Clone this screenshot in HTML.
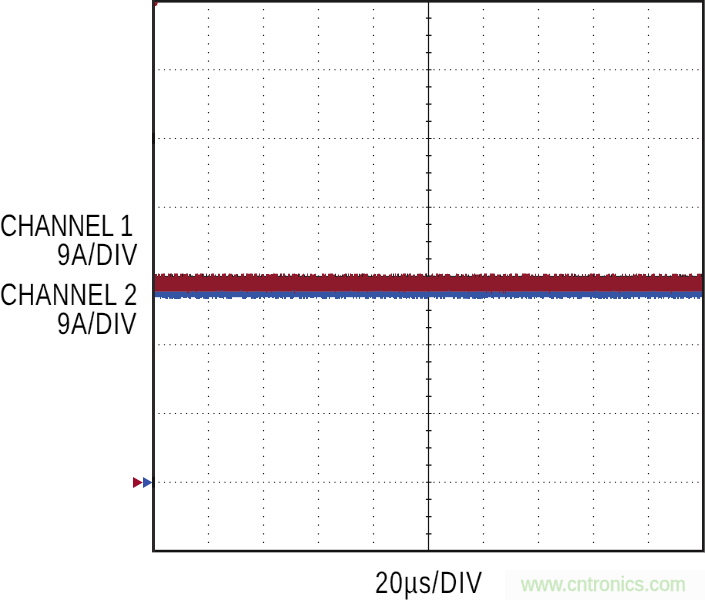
<!DOCTYPE html>
<html><head><meta charset="utf-8"><style>
html,body{margin:0;padding:0;background:#fff;width:705px;height:600px;overflow:hidden}
svg{position:absolute;left:0;top:0}
.t{position:absolute;font-family:"Liberation Sans",sans-serif;white-space:nowrap;line-height:1;color:#000;-webkit-text-stroke:0.12px #fff;will-change:transform;text-rendering:geometricPrecision}
.w{position:absolute;font-family:"Liberation Sans",sans-serif;white-space:nowrap;line-height:1;will-change:transform;-webkit-text-stroke:0.3px #c6e6bb}
</style></head><body>
<svg width="705" height="600" viewBox="0 0 705 600">
<path d="M207.90 8.99h1.2v1.2h-1.2zM207.90 17.59h1.2v1.2h-1.2zM207.90 26.18h1.2v1.2h-1.2zM207.90 34.77h1.2v1.2h-1.2zM207.90 43.37h1.2v1.2h-1.2zM207.90 51.96h1.2v1.2h-1.2zM207.90 60.56h1.2v1.2h-1.2zM207.90 69.15h1.2v1.2h-1.2zM207.90 77.74h1.2v1.2h-1.2zM207.90 86.34h1.2v1.2h-1.2zM207.90 94.93h1.2v1.2h-1.2zM207.90 103.53h1.2v1.2h-1.2zM207.90 112.12h1.2v1.2h-1.2zM207.90 120.71h1.2v1.2h-1.2zM207.90 129.31h1.2v1.2h-1.2zM207.90 137.90h1.2v1.2h-1.2zM207.90 146.49h1.2v1.2h-1.2zM207.90 155.09h1.2v1.2h-1.2zM207.90 163.68h1.2v1.2h-1.2zM207.90 172.28h1.2v1.2h-1.2zM207.90 180.87h1.2v1.2h-1.2zM207.90 189.46h1.2v1.2h-1.2zM207.90 198.06h1.2v1.2h-1.2zM207.90 206.65h1.2v1.2h-1.2zM207.90 215.24h1.2v1.2h-1.2zM207.90 223.84h1.2v1.2h-1.2zM207.90 232.43h1.2v1.2h-1.2zM207.90 241.03h1.2v1.2h-1.2zM207.90 249.62h1.2v1.2h-1.2zM207.90 258.21h1.2v1.2h-1.2zM207.90 266.81h1.2v1.2h-1.2zM207.90 275.40h1.2v1.2h-1.2zM207.90 283.99h1.2v1.2h-1.2zM207.90 292.59h1.2v1.2h-1.2zM207.90 301.18h1.2v1.2h-1.2zM207.90 309.77h1.2v1.2h-1.2zM207.90 318.37h1.2v1.2h-1.2zM207.90 326.96h1.2v1.2h-1.2zM207.90 335.56h1.2v1.2h-1.2zM207.90 344.15h1.2v1.2h-1.2zM207.90 352.74h1.2v1.2h-1.2zM207.90 361.34h1.2v1.2h-1.2zM207.90 369.93h1.2v1.2h-1.2zM207.90 378.52h1.2v1.2h-1.2zM207.90 387.12h1.2v1.2h-1.2zM207.90 395.71h1.2v1.2h-1.2zM207.90 404.31h1.2v1.2h-1.2zM207.90 412.90h1.2v1.2h-1.2zM207.90 421.49h1.2v1.2h-1.2zM207.90 430.09h1.2v1.2h-1.2zM207.90 438.68h1.2v1.2h-1.2zM207.90 447.27h1.2v1.2h-1.2zM207.90 455.87h1.2v1.2h-1.2zM207.90 464.46h1.2v1.2h-1.2zM207.90 473.06h1.2v1.2h-1.2zM207.90 481.65h1.2v1.2h-1.2zM207.90 490.24h1.2v1.2h-1.2zM207.90 498.84h1.2v1.2h-1.2zM207.90 507.43h1.2v1.2h-1.2zM207.90 516.02h1.2v1.2h-1.2zM207.90 524.62h1.2v1.2h-1.2zM207.90 533.21h1.2v1.2h-1.2zM207.90 541.81h1.2v1.2h-1.2zM262.90 8.99h1.2v1.2h-1.2zM262.90 17.59h1.2v1.2h-1.2zM262.90 26.18h1.2v1.2h-1.2zM262.90 34.77h1.2v1.2h-1.2zM262.90 43.37h1.2v1.2h-1.2zM262.90 51.96h1.2v1.2h-1.2zM262.90 60.56h1.2v1.2h-1.2zM262.90 69.15h1.2v1.2h-1.2zM262.90 77.74h1.2v1.2h-1.2zM262.90 86.34h1.2v1.2h-1.2zM262.90 94.93h1.2v1.2h-1.2zM262.90 103.53h1.2v1.2h-1.2zM262.90 112.12h1.2v1.2h-1.2zM262.90 120.71h1.2v1.2h-1.2zM262.90 129.31h1.2v1.2h-1.2zM262.90 137.90h1.2v1.2h-1.2zM262.90 146.49h1.2v1.2h-1.2zM262.90 155.09h1.2v1.2h-1.2zM262.90 163.68h1.2v1.2h-1.2zM262.90 172.28h1.2v1.2h-1.2zM262.90 180.87h1.2v1.2h-1.2zM262.90 189.46h1.2v1.2h-1.2zM262.90 198.06h1.2v1.2h-1.2zM262.90 206.65h1.2v1.2h-1.2zM262.90 215.24h1.2v1.2h-1.2zM262.90 223.84h1.2v1.2h-1.2zM262.90 232.43h1.2v1.2h-1.2zM262.90 241.03h1.2v1.2h-1.2zM262.90 249.62h1.2v1.2h-1.2zM262.90 258.21h1.2v1.2h-1.2zM262.90 266.81h1.2v1.2h-1.2zM262.90 275.40h1.2v1.2h-1.2zM262.90 283.99h1.2v1.2h-1.2zM262.90 292.59h1.2v1.2h-1.2zM262.90 301.18h1.2v1.2h-1.2zM262.90 309.77h1.2v1.2h-1.2zM262.90 318.37h1.2v1.2h-1.2zM262.90 326.96h1.2v1.2h-1.2zM262.90 335.56h1.2v1.2h-1.2zM262.90 344.15h1.2v1.2h-1.2zM262.90 352.74h1.2v1.2h-1.2zM262.90 361.34h1.2v1.2h-1.2zM262.90 369.93h1.2v1.2h-1.2zM262.90 378.52h1.2v1.2h-1.2zM262.90 387.12h1.2v1.2h-1.2zM262.90 395.71h1.2v1.2h-1.2zM262.90 404.31h1.2v1.2h-1.2zM262.90 412.90h1.2v1.2h-1.2zM262.90 421.49h1.2v1.2h-1.2zM262.90 430.09h1.2v1.2h-1.2zM262.90 438.68h1.2v1.2h-1.2zM262.90 447.27h1.2v1.2h-1.2zM262.90 455.87h1.2v1.2h-1.2zM262.90 464.46h1.2v1.2h-1.2zM262.90 473.06h1.2v1.2h-1.2zM262.90 481.65h1.2v1.2h-1.2zM262.90 490.24h1.2v1.2h-1.2zM262.90 498.84h1.2v1.2h-1.2zM262.90 507.43h1.2v1.2h-1.2zM262.90 516.02h1.2v1.2h-1.2zM262.90 524.62h1.2v1.2h-1.2zM262.90 533.21h1.2v1.2h-1.2zM262.90 541.81h1.2v1.2h-1.2zM317.90 8.99h1.2v1.2h-1.2zM317.90 17.59h1.2v1.2h-1.2zM317.90 26.18h1.2v1.2h-1.2zM317.90 34.77h1.2v1.2h-1.2zM317.90 43.37h1.2v1.2h-1.2zM317.90 51.96h1.2v1.2h-1.2zM317.90 60.56h1.2v1.2h-1.2zM317.90 69.15h1.2v1.2h-1.2zM317.90 77.74h1.2v1.2h-1.2zM317.90 86.34h1.2v1.2h-1.2zM317.90 94.93h1.2v1.2h-1.2zM317.90 103.53h1.2v1.2h-1.2zM317.90 112.12h1.2v1.2h-1.2zM317.90 120.71h1.2v1.2h-1.2zM317.90 129.31h1.2v1.2h-1.2zM317.90 137.90h1.2v1.2h-1.2zM317.90 146.49h1.2v1.2h-1.2zM317.90 155.09h1.2v1.2h-1.2zM317.90 163.68h1.2v1.2h-1.2zM317.90 172.28h1.2v1.2h-1.2zM317.90 180.87h1.2v1.2h-1.2zM317.90 189.46h1.2v1.2h-1.2zM317.90 198.06h1.2v1.2h-1.2zM317.90 206.65h1.2v1.2h-1.2zM317.90 215.24h1.2v1.2h-1.2zM317.90 223.84h1.2v1.2h-1.2zM317.90 232.43h1.2v1.2h-1.2zM317.90 241.03h1.2v1.2h-1.2zM317.90 249.62h1.2v1.2h-1.2zM317.90 258.21h1.2v1.2h-1.2zM317.90 266.81h1.2v1.2h-1.2zM317.90 275.40h1.2v1.2h-1.2zM317.90 283.99h1.2v1.2h-1.2zM317.90 292.59h1.2v1.2h-1.2zM317.90 301.18h1.2v1.2h-1.2zM317.90 309.77h1.2v1.2h-1.2zM317.90 318.37h1.2v1.2h-1.2zM317.90 326.96h1.2v1.2h-1.2zM317.90 335.56h1.2v1.2h-1.2zM317.90 344.15h1.2v1.2h-1.2zM317.90 352.74h1.2v1.2h-1.2zM317.90 361.34h1.2v1.2h-1.2zM317.90 369.93h1.2v1.2h-1.2zM317.90 378.52h1.2v1.2h-1.2zM317.90 387.12h1.2v1.2h-1.2zM317.90 395.71h1.2v1.2h-1.2zM317.90 404.31h1.2v1.2h-1.2zM317.90 412.90h1.2v1.2h-1.2zM317.90 421.49h1.2v1.2h-1.2zM317.90 430.09h1.2v1.2h-1.2zM317.90 438.68h1.2v1.2h-1.2zM317.90 447.27h1.2v1.2h-1.2zM317.90 455.87h1.2v1.2h-1.2zM317.90 464.46h1.2v1.2h-1.2zM317.90 473.06h1.2v1.2h-1.2zM317.90 481.65h1.2v1.2h-1.2zM317.90 490.24h1.2v1.2h-1.2zM317.90 498.84h1.2v1.2h-1.2zM317.90 507.43h1.2v1.2h-1.2zM317.90 516.02h1.2v1.2h-1.2zM317.90 524.62h1.2v1.2h-1.2zM317.90 533.21h1.2v1.2h-1.2zM317.90 541.81h1.2v1.2h-1.2zM372.90 8.99h1.2v1.2h-1.2zM372.90 17.59h1.2v1.2h-1.2zM372.90 26.18h1.2v1.2h-1.2zM372.90 34.77h1.2v1.2h-1.2zM372.90 43.37h1.2v1.2h-1.2zM372.90 51.96h1.2v1.2h-1.2zM372.90 60.56h1.2v1.2h-1.2zM372.90 69.15h1.2v1.2h-1.2zM372.90 77.74h1.2v1.2h-1.2zM372.90 86.34h1.2v1.2h-1.2zM372.90 94.93h1.2v1.2h-1.2zM372.90 103.53h1.2v1.2h-1.2zM372.90 112.12h1.2v1.2h-1.2zM372.90 120.71h1.2v1.2h-1.2zM372.90 129.31h1.2v1.2h-1.2zM372.90 137.90h1.2v1.2h-1.2zM372.90 146.49h1.2v1.2h-1.2zM372.90 155.09h1.2v1.2h-1.2zM372.90 163.68h1.2v1.2h-1.2zM372.90 172.28h1.2v1.2h-1.2zM372.90 180.87h1.2v1.2h-1.2zM372.90 189.46h1.2v1.2h-1.2zM372.90 198.06h1.2v1.2h-1.2zM372.90 206.65h1.2v1.2h-1.2zM372.90 215.24h1.2v1.2h-1.2zM372.90 223.84h1.2v1.2h-1.2zM372.90 232.43h1.2v1.2h-1.2zM372.90 241.03h1.2v1.2h-1.2zM372.90 249.62h1.2v1.2h-1.2zM372.90 258.21h1.2v1.2h-1.2zM372.90 266.81h1.2v1.2h-1.2zM372.90 275.40h1.2v1.2h-1.2zM372.90 283.99h1.2v1.2h-1.2zM372.90 292.59h1.2v1.2h-1.2zM372.90 301.18h1.2v1.2h-1.2zM372.90 309.77h1.2v1.2h-1.2zM372.90 318.37h1.2v1.2h-1.2zM372.90 326.96h1.2v1.2h-1.2zM372.90 335.56h1.2v1.2h-1.2zM372.90 344.15h1.2v1.2h-1.2zM372.90 352.74h1.2v1.2h-1.2zM372.90 361.34h1.2v1.2h-1.2zM372.90 369.93h1.2v1.2h-1.2zM372.90 378.52h1.2v1.2h-1.2zM372.90 387.12h1.2v1.2h-1.2zM372.90 395.71h1.2v1.2h-1.2zM372.90 404.31h1.2v1.2h-1.2zM372.90 412.90h1.2v1.2h-1.2zM372.90 421.49h1.2v1.2h-1.2zM372.90 430.09h1.2v1.2h-1.2zM372.90 438.68h1.2v1.2h-1.2zM372.90 447.27h1.2v1.2h-1.2zM372.90 455.87h1.2v1.2h-1.2zM372.90 464.46h1.2v1.2h-1.2zM372.90 473.06h1.2v1.2h-1.2zM372.90 481.65h1.2v1.2h-1.2zM372.90 490.24h1.2v1.2h-1.2zM372.90 498.84h1.2v1.2h-1.2zM372.90 507.43h1.2v1.2h-1.2zM372.90 516.02h1.2v1.2h-1.2zM372.90 524.62h1.2v1.2h-1.2zM372.90 533.21h1.2v1.2h-1.2zM372.90 541.81h1.2v1.2h-1.2zM482.90 8.99h1.2v1.2h-1.2zM482.90 17.59h1.2v1.2h-1.2zM482.90 26.18h1.2v1.2h-1.2zM482.90 34.77h1.2v1.2h-1.2zM482.90 43.37h1.2v1.2h-1.2zM482.90 51.96h1.2v1.2h-1.2zM482.90 60.56h1.2v1.2h-1.2zM482.90 69.15h1.2v1.2h-1.2zM482.90 77.74h1.2v1.2h-1.2zM482.90 86.34h1.2v1.2h-1.2zM482.90 94.93h1.2v1.2h-1.2zM482.90 103.53h1.2v1.2h-1.2zM482.90 112.12h1.2v1.2h-1.2zM482.90 120.71h1.2v1.2h-1.2zM482.90 129.31h1.2v1.2h-1.2zM482.90 137.90h1.2v1.2h-1.2zM482.90 146.49h1.2v1.2h-1.2zM482.90 155.09h1.2v1.2h-1.2zM482.90 163.68h1.2v1.2h-1.2zM482.90 172.28h1.2v1.2h-1.2zM482.90 180.87h1.2v1.2h-1.2zM482.90 189.46h1.2v1.2h-1.2zM482.90 198.06h1.2v1.2h-1.2zM482.90 206.65h1.2v1.2h-1.2zM482.90 215.24h1.2v1.2h-1.2zM482.90 223.84h1.2v1.2h-1.2zM482.90 232.43h1.2v1.2h-1.2zM482.90 241.03h1.2v1.2h-1.2zM482.90 249.62h1.2v1.2h-1.2zM482.90 258.21h1.2v1.2h-1.2zM482.90 266.81h1.2v1.2h-1.2zM482.90 275.40h1.2v1.2h-1.2zM482.90 283.99h1.2v1.2h-1.2zM482.90 292.59h1.2v1.2h-1.2zM482.90 301.18h1.2v1.2h-1.2zM482.90 309.77h1.2v1.2h-1.2zM482.90 318.37h1.2v1.2h-1.2zM482.90 326.96h1.2v1.2h-1.2zM482.90 335.56h1.2v1.2h-1.2zM482.90 344.15h1.2v1.2h-1.2zM482.90 352.74h1.2v1.2h-1.2zM482.90 361.34h1.2v1.2h-1.2zM482.90 369.93h1.2v1.2h-1.2zM482.90 378.52h1.2v1.2h-1.2zM482.90 387.12h1.2v1.2h-1.2zM482.90 395.71h1.2v1.2h-1.2zM482.90 404.31h1.2v1.2h-1.2zM482.90 412.90h1.2v1.2h-1.2zM482.90 421.49h1.2v1.2h-1.2zM482.90 430.09h1.2v1.2h-1.2zM482.90 438.68h1.2v1.2h-1.2zM482.90 447.27h1.2v1.2h-1.2zM482.90 455.87h1.2v1.2h-1.2zM482.90 464.46h1.2v1.2h-1.2zM482.90 473.06h1.2v1.2h-1.2zM482.90 481.65h1.2v1.2h-1.2zM482.90 490.24h1.2v1.2h-1.2zM482.90 498.84h1.2v1.2h-1.2zM482.90 507.43h1.2v1.2h-1.2zM482.90 516.02h1.2v1.2h-1.2zM482.90 524.62h1.2v1.2h-1.2zM482.90 533.21h1.2v1.2h-1.2zM482.90 541.81h1.2v1.2h-1.2zM537.90 8.99h1.2v1.2h-1.2zM537.90 17.59h1.2v1.2h-1.2zM537.90 26.18h1.2v1.2h-1.2zM537.90 34.77h1.2v1.2h-1.2zM537.90 43.37h1.2v1.2h-1.2zM537.90 51.96h1.2v1.2h-1.2zM537.90 60.56h1.2v1.2h-1.2zM537.90 69.15h1.2v1.2h-1.2zM537.90 77.74h1.2v1.2h-1.2zM537.90 86.34h1.2v1.2h-1.2zM537.90 94.93h1.2v1.2h-1.2zM537.90 103.53h1.2v1.2h-1.2zM537.90 112.12h1.2v1.2h-1.2zM537.90 120.71h1.2v1.2h-1.2zM537.90 129.31h1.2v1.2h-1.2zM537.90 137.90h1.2v1.2h-1.2zM537.90 146.49h1.2v1.2h-1.2zM537.90 155.09h1.2v1.2h-1.2zM537.90 163.68h1.2v1.2h-1.2zM537.90 172.28h1.2v1.2h-1.2zM537.90 180.87h1.2v1.2h-1.2zM537.90 189.46h1.2v1.2h-1.2zM537.90 198.06h1.2v1.2h-1.2zM537.90 206.65h1.2v1.2h-1.2zM537.90 215.24h1.2v1.2h-1.2zM537.90 223.84h1.2v1.2h-1.2zM537.90 232.43h1.2v1.2h-1.2zM537.90 241.03h1.2v1.2h-1.2zM537.90 249.62h1.2v1.2h-1.2zM537.90 258.21h1.2v1.2h-1.2zM537.90 266.81h1.2v1.2h-1.2zM537.90 275.40h1.2v1.2h-1.2zM537.90 283.99h1.2v1.2h-1.2zM537.90 292.59h1.2v1.2h-1.2zM537.90 301.18h1.2v1.2h-1.2zM537.90 309.77h1.2v1.2h-1.2zM537.90 318.37h1.2v1.2h-1.2zM537.90 326.96h1.2v1.2h-1.2zM537.90 335.56h1.2v1.2h-1.2zM537.90 344.15h1.2v1.2h-1.2zM537.90 352.74h1.2v1.2h-1.2zM537.90 361.34h1.2v1.2h-1.2zM537.90 369.93h1.2v1.2h-1.2zM537.90 378.52h1.2v1.2h-1.2zM537.90 387.12h1.2v1.2h-1.2zM537.90 395.71h1.2v1.2h-1.2zM537.90 404.31h1.2v1.2h-1.2zM537.90 412.90h1.2v1.2h-1.2zM537.90 421.49h1.2v1.2h-1.2zM537.90 430.09h1.2v1.2h-1.2zM537.90 438.68h1.2v1.2h-1.2zM537.90 447.27h1.2v1.2h-1.2zM537.90 455.87h1.2v1.2h-1.2zM537.90 464.46h1.2v1.2h-1.2zM537.90 473.06h1.2v1.2h-1.2zM537.90 481.65h1.2v1.2h-1.2zM537.90 490.24h1.2v1.2h-1.2zM537.90 498.84h1.2v1.2h-1.2zM537.90 507.43h1.2v1.2h-1.2zM537.90 516.02h1.2v1.2h-1.2zM537.90 524.62h1.2v1.2h-1.2zM537.90 533.21h1.2v1.2h-1.2zM537.90 541.81h1.2v1.2h-1.2zM592.90 8.99h1.2v1.2h-1.2zM592.90 17.59h1.2v1.2h-1.2zM592.90 26.18h1.2v1.2h-1.2zM592.90 34.77h1.2v1.2h-1.2zM592.90 43.37h1.2v1.2h-1.2zM592.90 51.96h1.2v1.2h-1.2zM592.90 60.56h1.2v1.2h-1.2zM592.90 69.15h1.2v1.2h-1.2zM592.90 77.74h1.2v1.2h-1.2zM592.90 86.34h1.2v1.2h-1.2zM592.90 94.93h1.2v1.2h-1.2zM592.90 103.53h1.2v1.2h-1.2zM592.90 112.12h1.2v1.2h-1.2zM592.90 120.71h1.2v1.2h-1.2zM592.90 129.31h1.2v1.2h-1.2zM592.90 137.90h1.2v1.2h-1.2zM592.90 146.49h1.2v1.2h-1.2zM592.90 155.09h1.2v1.2h-1.2zM592.90 163.68h1.2v1.2h-1.2zM592.90 172.28h1.2v1.2h-1.2zM592.90 180.87h1.2v1.2h-1.2zM592.90 189.46h1.2v1.2h-1.2zM592.90 198.06h1.2v1.2h-1.2zM592.90 206.65h1.2v1.2h-1.2zM592.90 215.24h1.2v1.2h-1.2zM592.90 223.84h1.2v1.2h-1.2zM592.90 232.43h1.2v1.2h-1.2zM592.90 241.03h1.2v1.2h-1.2zM592.90 249.62h1.2v1.2h-1.2zM592.90 258.21h1.2v1.2h-1.2zM592.90 266.81h1.2v1.2h-1.2zM592.90 275.40h1.2v1.2h-1.2zM592.90 283.99h1.2v1.2h-1.2zM592.90 292.59h1.2v1.2h-1.2zM592.90 301.18h1.2v1.2h-1.2zM592.90 309.77h1.2v1.2h-1.2zM592.90 318.37h1.2v1.2h-1.2zM592.90 326.96h1.2v1.2h-1.2zM592.90 335.56h1.2v1.2h-1.2zM592.90 344.15h1.2v1.2h-1.2zM592.90 352.74h1.2v1.2h-1.2zM592.90 361.34h1.2v1.2h-1.2zM592.90 369.93h1.2v1.2h-1.2zM592.90 378.52h1.2v1.2h-1.2zM592.90 387.12h1.2v1.2h-1.2zM592.90 395.71h1.2v1.2h-1.2zM592.90 404.31h1.2v1.2h-1.2zM592.90 412.90h1.2v1.2h-1.2zM592.90 421.49h1.2v1.2h-1.2zM592.90 430.09h1.2v1.2h-1.2zM592.90 438.68h1.2v1.2h-1.2zM592.90 447.27h1.2v1.2h-1.2zM592.90 455.87h1.2v1.2h-1.2zM592.90 464.46h1.2v1.2h-1.2zM592.90 473.06h1.2v1.2h-1.2zM592.90 481.65h1.2v1.2h-1.2zM592.90 490.24h1.2v1.2h-1.2zM592.90 498.84h1.2v1.2h-1.2zM592.90 507.43h1.2v1.2h-1.2zM592.90 516.02h1.2v1.2h-1.2zM592.90 524.62h1.2v1.2h-1.2zM592.90 533.21h1.2v1.2h-1.2zM592.90 541.81h1.2v1.2h-1.2zM647.90 8.99h1.2v1.2h-1.2zM647.90 17.59h1.2v1.2h-1.2zM647.90 26.18h1.2v1.2h-1.2zM647.90 34.77h1.2v1.2h-1.2zM647.90 43.37h1.2v1.2h-1.2zM647.90 51.96h1.2v1.2h-1.2zM647.90 60.56h1.2v1.2h-1.2zM647.90 69.15h1.2v1.2h-1.2zM647.90 77.74h1.2v1.2h-1.2zM647.90 86.34h1.2v1.2h-1.2zM647.90 94.93h1.2v1.2h-1.2zM647.90 103.53h1.2v1.2h-1.2zM647.90 112.12h1.2v1.2h-1.2zM647.90 120.71h1.2v1.2h-1.2zM647.90 129.31h1.2v1.2h-1.2zM647.90 137.90h1.2v1.2h-1.2zM647.90 146.49h1.2v1.2h-1.2zM647.90 155.09h1.2v1.2h-1.2zM647.90 163.68h1.2v1.2h-1.2zM647.90 172.28h1.2v1.2h-1.2zM647.90 180.87h1.2v1.2h-1.2zM647.90 189.46h1.2v1.2h-1.2zM647.90 198.06h1.2v1.2h-1.2zM647.90 206.65h1.2v1.2h-1.2zM647.90 215.24h1.2v1.2h-1.2zM647.90 223.84h1.2v1.2h-1.2zM647.90 232.43h1.2v1.2h-1.2zM647.90 241.03h1.2v1.2h-1.2zM647.90 249.62h1.2v1.2h-1.2zM647.90 258.21h1.2v1.2h-1.2zM647.90 266.81h1.2v1.2h-1.2zM647.90 275.40h1.2v1.2h-1.2zM647.90 283.99h1.2v1.2h-1.2zM647.90 292.59h1.2v1.2h-1.2zM647.90 301.18h1.2v1.2h-1.2zM647.90 309.77h1.2v1.2h-1.2zM647.90 318.37h1.2v1.2h-1.2zM647.90 326.96h1.2v1.2h-1.2zM647.90 335.56h1.2v1.2h-1.2zM647.90 344.15h1.2v1.2h-1.2zM647.90 352.74h1.2v1.2h-1.2zM647.90 361.34h1.2v1.2h-1.2zM647.90 369.93h1.2v1.2h-1.2zM647.90 378.52h1.2v1.2h-1.2zM647.90 387.12h1.2v1.2h-1.2zM647.90 395.71h1.2v1.2h-1.2zM647.90 404.31h1.2v1.2h-1.2zM647.90 412.90h1.2v1.2h-1.2zM647.90 421.49h1.2v1.2h-1.2zM647.90 430.09h1.2v1.2h-1.2zM647.90 438.68h1.2v1.2h-1.2zM647.90 447.27h1.2v1.2h-1.2zM647.90 455.87h1.2v1.2h-1.2zM647.90 464.46h1.2v1.2h-1.2zM647.90 473.06h1.2v1.2h-1.2zM647.90 481.65h1.2v1.2h-1.2zM647.90 490.24h1.2v1.2h-1.2zM647.90 498.84h1.2v1.2h-1.2zM647.90 507.43h1.2v1.2h-1.2zM647.90 516.02h1.2v1.2h-1.2zM647.90 524.62h1.2v1.2h-1.2zM647.90 533.21h1.2v1.2h-1.2zM647.90 541.81h1.2v1.2h-1.2zM158.40 69.15h1.2v1.2h-1.2zM163.90 69.15h1.2v1.2h-1.2zM169.40 69.15h1.2v1.2h-1.2zM174.90 69.15h1.2v1.2h-1.2zM180.40 69.15h1.2v1.2h-1.2zM185.90 69.15h1.2v1.2h-1.2zM191.40 69.15h1.2v1.2h-1.2zM196.90 69.15h1.2v1.2h-1.2zM202.40 69.15h1.2v1.2h-1.2zM207.90 69.15h1.2v1.2h-1.2zM213.40 69.15h1.2v1.2h-1.2zM218.90 69.15h1.2v1.2h-1.2zM224.40 69.15h1.2v1.2h-1.2zM229.90 69.15h1.2v1.2h-1.2zM235.40 69.15h1.2v1.2h-1.2zM240.90 69.15h1.2v1.2h-1.2zM246.40 69.15h1.2v1.2h-1.2zM251.90 69.15h1.2v1.2h-1.2zM257.40 69.15h1.2v1.2h-1.2zM262.90 69.15h1.2v1.2h-1.2zM268.40 69.15h1.2v1.2h-1.2zM273.90 69.15h1.2v1.2h-1.2zM279.40 69.15h1.2v1.2h-1.2zM284.90 69.15h1.2v1.2h-1.2zM290.40 69.15h1.2v1.2h-1.2zM295.90 69.15h1.2v1.2h-1.2zM301.40 69.15h1.2v1.2h-1.2zM306.90 69.15h1.2v1.2h-1.2zM312.40 69.15h1.2v1.2h-1.2zM317.90 69.15h1.2v1.2h-1.2zM323.40 69.15h1.2v1.2h-1.2zM328.90 69.15h1.2v1.2h-1.2zM334.40 69.15h1.2v1.2h-1.2zM339.90 69.15h1.2v1.2h-1.2zM345.40 69.15h1.2v1.2h-1.2zM350.90 69.15h1.2v1.2h-1.2zM356.40 69.15h1.2v1.2h-1.2zM361.90 69.15h1.2v1.2h-1.2zM367.40 69.15h1.2v1.2h-1.2zM372.90 69.15h1.2v1.2h-1.2zM378.40 69.15h1.2v1.2h-1.2zM383.90 69.15h1.2v1.2h-1.2zM389.40 69.15h1.2v1.2h-1.2zM394.90 69.15h1.2v1.2h-1.2zM400.40 69.15h1.2v1.2h-1.2zM405.90 69.15h1.2v1.2h-1.2zM411.40 69.15h1.2v1.2h-1.2zM416.90 69.15h1.2v1.2h-1.2zM422.40 69.15h1.2v1.2h-1.2zM427.90 69.15h1.2v1.2h-1.2zM433.40 69.15h1.2v1.2h-1.2zM438.90 69.15h1.2v1.2h-1.2zM444.40 69.15h1.2v1.2h-1.2zM449.90 69.15h1.2v1.2h-1.2zM455.40 69.15h1.2v1.2h-1.2zM460.90 69.15h1.2v1.2h-1.2zM466.40 69.15h1.2v1.2h-1.2zM471.90 69.15h1.2v1.2h-1.2zM477.40 69.15h1.2v1.2h-1.2zM482.90 69.15h1.2v1.2h-1.2zM488.40 69.15h1.2v1.2h-1.2zM493.90 69.15h1.2v1.2h-1.2zM499.40 69.15h1.2v1.2h-1.2zM504.90 69.15h1.2v1.2h-1.2zM510.40 69.15h1.2v1.2h-1.2zM515.90 69.15h1.2v1.2h-1.2zM521.40 69.15h1.2v1.2h-1.2zM526.90 69.15h1.2v1.2h-1.2zM532.40 69.15h1.2v1.2h-1.2zM537.90 69.15h1.2v1.2h-1.2zM543.40 69.15h1.2v1.2h-1.2zM548.90 69.15h1.2v1.2h-1.2zM554.40 69.15h1.2v1.2h-1.2zM559.90 69.15h1.2v1.2h-1.2zM565.40 69.15h1.2v1.2h-1.2zM570.90 69.15h1.2v1.2h-1.2zM576.40 69.15h1.2v1.2h-1.2zM581.90 69.15h1.2v1.2h-1.2zM587.40 69.15h1.2v1.2h-1.2zM592.90 69.15h1.2v1.2h-1.2zM598.40 69.15h1.2v1.2h-1.2zM603.90 69.15h1.2v1.2h-1.2zM609.40 69.15h1.2v1.2h-1.2zM614.90 69.15h1.2v1.2h-1.2zM620.40 69.15h1.2v1.2h-1.2zM625.90 69.15h1.2v1.2h-1.2zM631.40 69.15h1.2v1.2h-1.2zM636.90 69.15h1.2v1.2h-1.2zM642.40 69.15h1.2v1.2h-1.2zM647.90 69.15h1.2v1.2h-1.2zM653.40 69.15h1.2v1.2h-1.2zM658.90 69.15h1.2v1.2h-1.2zM664.40 69.15h1.2v1.2h-1.2zM669.90 69.15h1.2v1.2h-1.2zM675.40 69.15h1.2v1.2h-1.2zM680.90 69.15h1.2v1.2h-1.2zM686.40 69.15h1.2v1.2h-1.2zM691.90 69.15h1.2v1.2h-1.2zM697.40 69.15h1.2v1.2h-1.2zM158.40 137.90h1.2v1.2h-1.2zM163.90 137.90h1.2v1.2h-1.2zM169.40 137.90h1.2v1.2h-1.2zM174.90 137.90h1.2v1.2h-1.2zM180.40 137.90h1.2v1.2h-1.2zM185.90 137.90h1.2v1.2h-1.2zM191.40 137.90h1.2v1.2h-1.2zM196.90 137.90h1.2v1.2h-1.2zM202.40 137.90h1.2v1.2h-1.2zM207.90 137.90h1.2v1.2h-1.2zM213.40 137.90h1.2v1.2h-1.2zM218.90 137.90h1.2v1.2h-1.2zM224.40 137.90h1.2v1.2h-1.2zM229.90 137.90h1.2v1.2h-1.2zM235.40 137.90h1.2v1.2h-1.2zM240.90 137.90h1.2v1.2h-1.2zM246.40 137.90h1.2v1.2h-1.2zM251.90 137.90h1.2v1.2h-1.2zM257.40 137.90h1.2v1.2h-1.2zM262.90 137.90h1.2v1.2h-1.2zM268.40 137.90h1.2v1.2h-1.2zM273.90 137.90h1.2v1.2h-1.2zM279.40 137.90h1.2v1.2h-1.2zM284.90 137.90h1.2v1.2h-1.2zM290.40 137.90h1.2v1.2h-1.2zM295.90 137.90h1.2v1.2h-1.2zM301.40 137.90h1.2v1.2h-1.2zM306.90 137.90h1.2v1.2h-1.2zM312.40 137.90h1.2v1.2h-1.2zM317.90 137.90h1.2v1.2h-1.2zM323.40 137.90h1.2v1.2h-1.2zM328.90 137.90h1.2v1.2h-1.2zM334.40 137.90h1.2v1.2h-1.2zM339.90 137.90h1.2v1.2h-1.2zM345.40 137.90h1.2v1.2h-1.2zM350.90 137.90h1.2v1.2h-1.2zM356.40 137.90h1.2v1.2h-1.2zM361.90 137.90h1.2v1.2h-1.2zM367.40 137.90h1.2v1.2h-1.2zM372.90 137.90h1.2v1.2h-1.2zM378.40 137.90h1.2v1.2h-1.2zM383.90 137.90h1.2v1.2h-1.2zM389.40 137.90h1.2v1.2h-1.2zM394.90 137.90h1.2v1.2h-1.2zM400.40 137.90h1.2v1.2h-1.2zM405.90 137.90h1.2v1.2h-1.2zM411.40 137.90h1.2v1.2h-1.2zM416.90 137.90h1.2v1.2h-1.2zM422.40 137.90h1.2v1.2h-1.2zM427.90 137.90h1.2v1.2h-1.2zM433.40 137.90h1.2v1.2h-1.2zM438.90 137.90h1.2v1.2h-1.2zM444.40 137.90h1.2v1.2h-1.2zM449.90 137.90h1.2v1.2h-1.2zM455.40 137.90h1.2v1.2h-1.2zM460.90 137.90h1.2v1.2h-1.2zM466.40 137.90h1.2v1.2h-1.2zM471.90 137.90h1.2v1.2h-1.2zM477.40 137.90h1.2v1.2h-1.2zM482.90 137.90h1.2v1.2h-1.2zM488.40 137.90h1.2v1.2h-1.2zM493.90 137.90h1.2v1.2h-1.2zM499.40 137.90h1.2v1.2h-1.2zM504.90 137.90h1.2v1.2h-1.2zM510.40 137.90h1.2v1.2h-1.2zM515.90 137.90h1.2v1.2h-1.2zM521.40 137.90h1.2v1.2h-1.2zM526.90 137.90h1.2v1.2h-1.2zM532.40 137.90h1.2v1.2h-1.2zM537.90 137.90h1.2v1.2h-1.2zM543.40 137.90h1.2v1.2h-1.2zM548.90 137.90h1.2v1.2h-1.2zM554.40 137.90h1.2v1.2h-1.2zM559.90 137.90h1.2v1.2h-1.2zM565.40 137.90h1.2v1.2h-1.2zM570.90 137.90h1.2v1.2h-1.2zM576.40 137.90h1.2v1.2h-1.2zM581.90 137.90h1.2v1.2h-1.2zM587.40 137.90h1.2v1.2h-1.2zM592.90 137.90h1.2v1.2h-1.2zM598.40 137.90h1.2v1.2h-1.2zM603.90 137.90h1.2v1.2h-1.2zM609.40 137.90h1.2v1.2h-1.2zM614.90 137.90h1.2v1.2h-1.2zM620.40 137.90h1.2v1.2h-1.2zM625.90 137.90h1.2v1.2h-1.2zM631.40 137.90h1.2v1.2h-1.2zM636.90 137.90h1.2v1.2h-1.2zM642.40 137.90h1.2v1.2h-1.2zM647.90 137.90h1.2v1.2h-1.2zM653.40 137.90h1.2v1.2h-1.2zM658.90 137.90h1.2v1.2h-1.2zM664.40 137.90h1.2v1.2h-1.2zM669.90 137.90h1.2v1.2h-1.2zM675.40 137.90h1.2v1.2h-1.2zM680.90 137.90h1.2v1.2h-1.2zM686.40 137.90h1.2v1.2h-1.2zM691.90 137.90h1.2v1.2h-1.2zM697.40 137.90h1.2v1.2h-1.2zM158.40 206.65h1.2v1.2h-1.2zM163.90 206.65h1.2v1.2h-1.2zM169.40 206.65h1.2v1.2h-1.2zM174.90 206.65h1.2v1.2h-1.2zM180.40 206.65h1.2v1.2h-1.2zM185.90 206.65h1.2v1.2h-1.2zM191.40 206.65h1.2v1.2h-1.2zM196.90 206.65h1.2v1.2h-1.2zM202.40 206.65h1.2v1.2h-1.2zM207.90 206.65h1.2v1.2h-1.2zM213.40 206.65h1.2v1.2h-1.2zM218.90 206.65h1.2v1.2h-1.2zM224.40 206.65h1.2v1.2h-1.2zM229.90 206.65h1.2v1.2h-1.2zM235.40 206.65h1.2v1.2h-1.2zM240.90 206.65h1.2v1.2h-1.2zM246.40 206.65h1.2v1.2h-1.2zM251.90 206.65h1.2v1.2h-1.2zM257.40 206.65h1.2v1.2h-1.2zM262.90 206.65h1.2v1.2h-1.2zM268.40 206.65h1.2v1.2h-1.2zM273.90 206.65h1.2v1.2h-1.2zM279.40 206.65h1.2v1.2h-1.2zM284.90 206.65h1.2v1.2h-1.2zM290.40 206.65h1.2v1.2h-1.2zM295.90 206.65h1.2v1.2h-1.2zM301.40 206.65h1.2v1.2h-1.2zM306.90 206.65h1.2v1.2h-1.2zM312.40 206.65h1.2v1.2h-1.2zM317.90 206.65h1.2v1.2h-1.2zM323.40 206.65h1.2v1.2h-1.2zM328.90 206.65h1.2v1.2h-1.2zM334.40 206.65h1.2v1.2h-1.2zM339.90 206.65h1.2v1.2h-1.2zM345.40 206.65h1.2v1.2h-1.2zM350.90 206.65h1.2v1.2h-1.2zM356.40 206.65h1.2v1.2h-1.2zM361.90 206.65h1.2v1.2h-1.2zM367.40 206.65h1.2v1.2h-1.2zM372.90 206.65h1.2v1.2h-1.2zM378.40 206.65h1.2v1.2h-1.2zM383.90 206.65h1.2v1.2h-1.2zM389.40 206.65h1.2v1.2h-1.2zM394.90 206.65h1.2v1.2h-1.2zM400.40 206.65h1.2v1.2h-1.2zM405.90 206.65h1.2v1.2h-1.2zM411.40 206.65h1.2v1.2h-1.2zM416.90 206.65h1.2v1.2h-1.2zM422.40 206.65h1.2v1.2h-1.2zM427.90 206.65h1.2v1.2h-1.2zM433.40 206.65h1.2v1.2h-1.2zM438.90 206.65h1.2v1.2h-1.2zM444.40 206.65h1.2v1.2h-1.2zM449.90 206.65h1.2v1.2h-1.2zM455.40 206.65h1.2v1.2h-1.2zM460.90 206.65h1.2v1.2h-1.2zM466.40 206.65h1.2v1.2h-1.2zM471.90 206.65h1.2v1.2h-1.2zM477.40 206.65h1.2v1.2h-1.2zM482.90 206.65h1.2v1.2h-1.2zM488.40 206.65h1.2v1.2h-1.2zM493.90 206.65h1.2v1.2h-1.2zM499.40 206.65h1.2v1.2h-1.2zM504.90 206.65h1.2v1.2h-1.2zM510.40 206.65h1.2v1.2h-1.2zM515.90 206.65h1.2v1.2h-1.2zM521.40 206.65h1.2v1.2h-1.2zM526.90 206.65h1.2v1.2h-1.2zM532.40 206.65h1.2v1.2h-1.2zM537.90 206.65h1.2v1.2h-1.2zM543.40 206.65h1.2v1.2h-1.2zM548.90 206.65h1.2v1.2h-1.2zM554.40 206.65h1.2v1.2h-1.2zM559.90 206.65h1.2v1.2h-1.2zM565.40 206.65h1.2v1.2h-1.2zM570.90 206.65h1.2v1.2h-1.2zM576.40 206.65h1.2v1.2h-1.2zM581.90 206.65h1.2v1.2h-1.2zM587.40 206.65h1.2v1.2h-1.2zM592.90 206.65h1.2v1.2h-1.2zM598.40 206.65h1.2v1.2h-1.2zM603.90 206.65h1.2v1.2h-1.2zM609.40 206.65h1.2v1.2h-1.2zM614.90 206.65h1.2v1.2h-1.2zM620.40 206.65h1.2v1.2h-1.2zM625.90 206.65h1.2v1.2h-1.2zM631.40 206.65h1.2v1.2h-1.2zM636.90 206.65h1.2v1.2h-1.2zM642.40 206.65h1.2v1.2h-1.2zM647.90 206.65h1.2v1.2h-1.2zM653.40 206.65h1.2v1.2h-1.2zM658.90 206.65h1.2v1.2h-1.2zM664.40 206.65h1.2v1.2h-1.2zM669.90 206.65h1.2v1.2h-1.2zM675.40 206.65h1.2v1.2h-1.2zM680.90 206.65h1.2v1.2h-1.2zM686.40 206.65h1.2v1.2h-1.2zM691.90 206.65h1.2v1.2h-1.2zM697.40 206.65h1.2v1.2h-1.2zM158.40 275.40h1.2v1.2h-1.2zM163.90 275.40h1.2v1.2h-1.2zM169.40 275.40h1.2v1.2h-1.2zM174.90 275.40h1.2v1.2h-1.2zM180.40 275.40h1.2v1.2h-1.2zM185.90 275.40h1.2v1.2h-1.2zM191.40 275.40h1.2v1.2h-1.2zM196.90 275.40h1.2v1.2h-1.2zM202.40 275.40h1.2v1.2h-1.2zM207.90 275.40h1.2v1.2h-1.2zM213.40 275.40h1.2v1.2h-1.2zM218.90 275.40h1.2v1.2h-1.2zM224.40 275.40h1.2v1.2h-1.2zM229.90 275.40h1.2v1.2h-1.2zM235.40 275.40h1.2v1.2h-1.2zM240.90 275.40h1.2v1.2h-1.2zM246.40 275.40h1.2v1.2h-1.2zM251.90 275.40h1.2v1.2h-1.2zM257.40 275.40h1.2v1.2h-1.2zM262.90 275.40h1.2v1.2h-1.2zM268.40 275.40h1.2v1.2h-1.2zM273.90 275.40h1.2v1.2h-1.2zM279.40 275.40h1.2v1.2h-1.2zM284.90 275.40h1.2v1.2h-1.2zM290.40 275.40h1.2v1.2h-1.2zM295.90 275.40h1.2v1.2h-1.2zM301.40 275.40h1.2v1.2h-1.2zM306.90 275.40h1.2v1.2h-1.2zM312.40 275.40h1.2v1.2h-1.2zM317.90 275.40h1.2v1.2h-1.2zM323.40 275.40h1.2v1.2h-1.2zM328.90 275.40h1.2v1.2h-1.2zM334.40 275.40h1.2v1.2h-1.2zM339.90 275.40h1.2v1.2h-1.2zM345.40 275.40h1.2v1.2h-1.2zM350.90 275.40h1.2v1.2h-1.2zM356.40 275.40h1.2v1.2h-1.2zM361.90 275.40h1.2v1.2h-1.2zM367.40 275.40h1.2v1.2h-1.2zM372.90 275.40h1.2v1.2h-1.2zM378.40 275.40h1.2v1.2h-1.2zM383.90 275.40h1.2v1.2h-1.2zM389.40 275.40h1.2v1.2h-1.2zM394.90 275.40h1.2v1.2h-1.2zM400.40 275.40h1.2v1.2h-1.2zM405.90 275.40h1.2v1.2h-1.2zM411.40 275.40h1.2v1.2h-1.2zM416.90 275.40h1.2v1.2h-1.2zM422.40 275.40h1.2v1.2h-1.2zM427.90 275.40h1.2v1.2h-1.2zM433.40 275.40h1.2v1.2h-1.2zM438.90 275.40h1.2v1.2h-1.2zM444.40 275.40h1.2v1.2h-1.2zM449.90 275.40h1.2v1.2h-1.2zM455.40 275.40h1.2v1.2h-1.2zM460.90 275.40h1.2v1.2h-1.2zM466.40 275.40h1.2v1.2h-1.2zM471.90 275.40h1.2v1.2h-1.2zM477.40 275.40h1.2v1.2h-1.2zM482.90 275.40h1.2v1.2h-1.2zM488.40 275.40h1.2v1.2h-1.2zM493.90 275.40h1.2v1.2h-1.2zM499.40 275.40h1.2v1.2h-1.2zM504.90 275.40h1.2v1.2h-1.2zM510.40 275.40h1.2v1.2h-1.2zM515.90 275.40h1.2v1.2h-1.2zM521.40 275.40h1.2v1.2h-1.2zM526.90 275.40h1.2v1.2h-1.2zM532.40 275.40h1.2v1.2h-1.2zM537.90 275.40h1.2v1.2h-1.2zM543.40 275.40h1.2v1.2h-1.2zM548.90 275.40h1.2v1.2h-1.2zM554.40 275.40h1.2v1.2h-1.2zM559.90 275.40h1.2v1.2h-1.2zM565.40 275.40h1.2v1.2h-1.2zM570.90 275.40h1.2v1.2h-1.2zM576.40 275.40h1.2v1.2h-1.2zM581.90 275.40h1.2v1.2h-1.2zM587.40 275.40h1.2v1.2h-1.2zM592.90 275.40h1.2v1.2h-1.2zM598.40 275.40h1.2v1.2h-1.2zM603.90 275.40h1.2v1.2h-1.2zM609.40 275.40h1.2v1.2h-1.2zM614.90 275.40h1.2v1.2h-1.2zM620.40 275.40h1.2v1.2h-1.2zM625.90 275.40h1.2v1.2h-1.2zM631.40 275.40h1.2v1.2h-1.2zM636.90 275.40h1.2v1.2h-1.2zM642.40 275.40h1.2v1.2h-1.2zM647.90 275.40h1.2v1.2h-1.2zM653.40 275.40h1.2v1.2h-1.2zM658.90 275.40h1.2v1.2h-1.2zM664.40 275.40h1.2v1.2h-1.2zM669.90 275.40h1.2v1.2h-1.2zM675.40 275.40h1.2v1.2h-1.2zM680.90 275.40h1.2v1.2h-1.2zM686.40 275.40h1.2v1.2h-1.2zM691.90 275.40h1.2v1.2h-1.2zM697.40 275.40h1.2v1.2h-1.2zM158.40 344.15h1.2v1.2h-1.2zM163.90 344.15h1.2v1.2h-1.2zM169.40 344.15h1.2v1.2h-1.2zM174.90 344.15h1.2v1.2h-1.2zM180.40 344.15h1.2v1.2h-1.2zM185.90 344.15h1.2v1.2h-1.2zM191.40 344.15h1.2v1.2h-1.2zM196.90 344.15h1.2v1.2h-1.2zM202.40 344.15h1.2v1.2h-1.2zM207.90 344.15h1.2v1.2h-1.2zM213.40 344.15h1.2v1.2h-1.2zM218.90 344.15h1.2v1.2h-1.2zM224.40 344.15h1.2v1.2h-1.2zM229.90 344.15h1.2v1.2h-1.2zM235.40 344.15h1.2v1.2h-1.2zM240.90 344.15h1.2v1.2h-1.2zM246.40 344.15h1.2v1.2h-1.2zM251.90 344.15h1.2v1.2h-1.2zM257.40 344.15h1.2v1.2h-1.2zM262.90 344.15h1.2v1.2h-1.2zM268.40 344.15h1.2v1.2h-1.2zM273.90 344.15h1.2v1.2h-1.2zM279.40 344.15h1.2v1.2h-1.2zM284.90 344.15h1.2v1.2h-1.2zM290.40 344.15h1.2v1.2h-1.2zM295.90 344.15h1.2v1.2h-1.2zM301.40 344.15h1.2v1.2h-1.2zM306.90 344.15h1.2v1.2h-1.2zM312.40 344.15h1.2v1.2h-1.2zM317.90 344.15h1.2v1.2h-1.2zM323.40 344.15h1.2v1.2h-1.2zM328.90 344.15h1.2v1.2h-1.2zM334.40 344.15h1.2v1.2h-1.2zM339.90 344.15h1.2v1.2h-1.2zM345.40 344.15h1.2v1.2h-1.2zM350.90 344.15h1.2v1.2h-1.2zM356.40 344.15h1.2v1.2h-1.2zM361.90 344.15h1.2v1.2h-1.2zM367.40 344.15h1.2v1.2h-1.2zM372.90 344.15h1.2v1.2h-1.2zM378.40 344.15h1.2v1.2h-1.2zM383.90 344.15h1.2v1.2h-1.2zM389.40 344.15h1.2v1.2h-1.2zM394.90 344.15h1.2v1.2h-1.2zM400.40 344.15h1.2v1.2h-1.2zM405.90 344.15h1.2v1.2h-1.2zM411.40 344.15h1.2v1.2h-1.2zM416.90 344.15h1.2v1.2h-1.2zM422.40 344.15h1.2v1.2h-1.2zM427.90 344.15h1.2v1.2h-1.2zM433.40 344.15h1.2v1.2h-1.2zM438.90 344.15h1.2v1.2h-1.2zM444.40 344.15h1.2v1.2h-1.2zM449.90 344.15h1.2v1.2h-1.2zM455.40 344.15h1.2v1.2h-1.2zM460.90 344.15h1.2v1.2h-1.2zM466.40 344.15h1.2v1.2h-1.2zM471.90 344.15h1.2v1.2h-1.2zM477.40 344.15h1.2v1.2h-1.2zM482.90 344.15h1.2v1.2h-1.2zM488.40 344.15h1.2v1.2h-1.2zM493.90 344.15h1.2v1.2h-1.2zM499.40 344.15h1.2v1.2h-1.2zM504.90 344.15h1.2v1.2h-1.2zM510.40 344.15h1.2v1.2h-1.2zM515.90 344.15h1.2v1.2h-1.2zM521.40 344.15h1.2v1.2h-1.2zM526.90 344.15h1.2v1.2h-1.2zM532.40 344.15h1.2v1.2h-1.2zM537.90 344.15h1.2v1.2h-1.2zM543.40 344.15h1.2v1.2h-1.2zM548.90 344.15h1.2v1.2h-1.2zM554.40 344.15h1.2v1.2h-1.2zM559.90 344.15h1.2v1.2h-1.2zM565.40 344.15h1.2v1.2h-1.2zM570.90 344.15h1.2v1.2h-1.2zM576.40 344.15h1.2v1.2h-1.2zM581.90 344.15h1.2v1.2h-1.2zM587.40 344.15h1.2v1.2h-1.2zM592.90 344.15h1.2v1.2h-1.2zM598.40 344.15h1.2v1.2h-1.2zM603.90 344.15h1.2v1.2h-1.2zM609.40 344.15h1.2v1.2h-1.2zM614.90 344.15h1.2v1.2h-1.2zM620.40 344.15h1.2v1.2h-1.2zM625.90 344.15h1.2v1.2h-1.2zM631.40 344.15h1.2v1.2h-1.2zM636.90 344.15h1.2v1.2h-1.2zM642.40 344.15h1.2v1.2h-1.2zM647.90 344.15h1.2v1.2h-1.2zM653.40 344.15h1.2v1.2h-1.2zM658.90 344.15h1.2v1.2h-1.2zM664.40 344.15h1.2v1.2h-1.2zM669.90 344.15h1.2v1.2h-1.2zM675.40 344.15h1.2v1.2h-1.2zM680.90 344.15h1.2v1.2h-1.2zM686.40 344.15h1.2v1.2h-1.2zM691.90 344.15h1.2v1.2h-1.2zM697.40 344.15h1.2v1.2h-1.2zM158.40 412.90h1.2v1.2h-1.2zM163.90 412.90h1.2v1.2h-1.2zM169.40 412.90h1.2v1.2h-1.2zM174.90 412.90h1.2v1.2h-1.2zM180.40 412.90h1.2v1.2h-1.2zM185.90 412.90h1.2v1.2h-1.2zM191.40 412.90h1.2v1.2h-1.2zM196.90 412.90h1.2v1.2h-1.2zM202.40 412.90h1.2v1.2h-1.2zM207.90 412.90h1.2v1.2h-1.2zM213.40 412.90h1.2v1.2h-1.2zM218.90 412.90h1.2v1.2h-1.2zM224.40 412.90h1.2v1.2h-1.2zM229.90 412.90h1.2v1.2h-1.2zM235.40 412.90h1.2v1.2h-1.2zM240.90 412.90h1.2v1.2h-1.2zM246.40 412.90h1.2v1.2h-1.2zM251.90 412.90h1.2v1.2h-1.2zM257.40 412.90h1.2v1.2h-1.2zM262.90 412.90h1.2v1.2h-1.2zM268.40 412.90h1.2v1.2h-1.2zM273.90 412.90h1.2v1.2h-1.2zM279.40 412.90h1.2v1.2h-1.2zM284.90 412.90h1.2v1.2h-1.2zM290.40 412.90h1.2v1.2h-1.2zM295.90 412.90h1.2v1.2h-1.2zM301.40 412.90h1.2v1.2h-1.2zM306.90 412.90h1.2v1.2h-1.2zM312.40 412.90h1.2v1.2h-1.2zM317.90 412.90h1.2v1.2h-1.2zM323.40 412.90h1.2v1.2h-1.2zM328.90 412.90h1.2v1.2h-1.2zM334.40 412.90h1.2v1.2h-1.2zM339.90 412.90h1.2v1.2h-1.2zM345.40 412.90h1.2v1.2h-1.2zM350.90 412.90h1.2v1.2h-1.2zM356.40 412.90h1.2v1.2h-1.2zM361.90 412.90h1.2v1.2h-1.2zM367.40 412.90h1.2v1.2h-1.2zM372.90 412.90h1.2v1.2h-1.2zM378.40 412.90h1.2v1.2h-1.2zM383.90 412.90h1.2v1.2h-1.2zM389.40 412.90h1.2v1.2h-1.2zM394.90 412.90h1.2v1.2h-1.2zM400.40 412.90h1.2v1.2h-1.2zM405.90 412.90h1.2v1.2h-1.2zM411.40 412.90h1.2v1.2h-1.2zM416.90 412.90h1.2v1.2h-1.2zM422.40 412.90h1.2v1.2h-1.2zM427.90 412.90h1.2v1.2h-1.2zM433.40 412.90h1.2v1.2h-1.2zM438.90 412.90h1.2v1.2h-1.2zM444.40 412.90h1.2v1.2h-1.2zM449.90 412.90h1.2v1.2h-1.2zM455.40 412.90h1.2v1.2h-1.2zM460.90 412.90h1.2v1.2h-1.2zM466.40 412.90h1.2v1.2h-1.2zM471.90 412.90h1.2v1.2h-1.2zM477.40 412.90h1.2v1.2h-1.2zM482.90 412.90h1.2v1.2h-1.2zM488.40 412.90h1.2v1.2h-1.2zM493.90 412.90h1.2v1.2h-1.2zM499.40 412.90h1.2v1.2h-1.2zM504.90 412.90h1.2v1.2h-1.2zM510.40 412.90h1.2v1.2h-1.2zM515.90 412.90h1.2v1.2h-1.2zM521.40 412.90h1.2v1.2h-1.2zM526.90 412.90h1.2v1.2h-1.2zM532.40 412.90h1.2v1.2h-1.2zM537.90 412.90h1.2v1.2h-1.2zM543.40 412.90h1.2v1.2h-1.2zM548.90 412.90h1.2v1.2h-1.2zM554.40 412.90h1.2v1.2h-1.2zM559.90 412.90h1.2v1.2h-1.2zM565.40 412.90h1.2v1.2h-1.2zM570.90 412.90h1.2v1.2h-1.2zM576.40 412.90h1.2v1.2h-1.2zM581.90 412.90h1.2v1.2h-1.2zM587.40 412.90h1.2v1.2h-1.2zM592.90 412.90h1.2v1.2h-1.2zM598.40 412.90h1.2v1.2h-1.2zM603.90 412.90h1.2v1.2h-1.2zM609.40 412.90h1.2v1.2h-1.2zM614.90 412.90h1.2v1.2h-1.2zM620.40 412.90h1.2v1.2h-1.2zM625.90 412.90h1.2v1.2h-1.2zM631.40 412.90h1.2v1.2h-1.2zM636.90 412.90h1.2v1.2h-1.2zM642.40 412.90h1.2v1.2h-1.2zM647.90 412.90h1.2v1.2h-1.2zM653.40 412.90h1.2v1.2h-1.2zM658.90 412.90h1.2v1.2h-1.2zM664.40 412.90h1.2v1.2h-1.2zM669.90 412.90h1.2v1.2h-1.2zM675.40 412.90h1.2v1.2h-1.2zM680.90 412.90h1.2v1.2h-1.2zM686.40 412.90h1.2v1.2h-1.2zM691.90 412.90h1.2v1.2h-1.2zM697.40 412.90h1.2v1.2h-1.2zM158.40 481.65h1.2v1.2h-1.2zM163.90 481.65h1.2v1.2h-1.2zM169.40 481.65h1.2v1.2h-1.2zM174.90 481.65h1.2v1.2h-1.2zM180.40 481.65h1.2v1.2h-1.2zM185.90 481.65h1.2v1.2h-1.2zM191.40 481.65h1.2v1.2h-1.2zM196.90 481.65h1.2v1.2h-1.2zM202.40 481.65h1.2v1.2h-1.2zM207.90 481.65h1.2v1.2h-1.2zM213.40 481.65h1.2v1.2h-1.2zM218.90 481.65h1.2v1.2h-1.2zM224.40 481.65h1.2v1.2h-1.2zM229.90 481.65h1.2v1.2h-1.2zM235.40 481.65h1.2v1.2h-1.2zM240.90 481.65h1.2v1.2h-1.2zM246.40 481.65h1.2v1.2h-1.2zM251.90 481.65h1.2v1.2h-1.2zM257.40 481.65h1.2v1.2h-1.2zM262.90 481.65h1.2v1.2h-1.2zM268.40 481.65h1.2v1.2h-1.2zM273.90 481.65h1.2v1.2h-1.2zM279.40 481.65h1.2v1.2h-1.2zM284.90 481.65h1.2v1.2h-1.2zM290.40 481.65h1.2v1.2h-1.2zM295.90 481.65h1.2v1.2h-1.2zM301.40 481.65h1.2v1.2h-1.2zM306.90 481.65h1.2v1.2h-1.2zM312.40 481.65h1.2v1.2h-1.2zM317.90 481.65h1.2v1.2h-1.2zM323.40 481.65h1.2v1.2h-1.2zM328.90 481.65h1.2v1.2h-1.2zM334.40 481.65h1.2v1.2h-1.2zM339.90 481.65h1.2v1.2h-1.2zM345.40 481.65h1.2v1.2h-1.2zM350.90 481.65h1.2v1.2h-1.2zM356.40 481.65h1.2v1.2h-1.2zM361.90 481.65h1.2v1.2h-1.2zM367.40 481.65h1.2v1.2h-1.2zM372.90 481.65h1.2v1.2h-1.2zM378.40 481.65h1.2v1.2h-1.2zM383.90 481.65h1.2v1.2h-1.2zM389.40 481.65h1.2v1.2h-1.2zM394.90 481.65h1.2v1.2h-1.2zM400.40 481.65h1.2v1.2h-1.2zM405.90 481.65h1.2v1.2h-1.2zM411.40 481.65h1.2v1.2h-1.2zM416.90 481.65h1.2v1.2h-1.2zM422.40 481.65h1.2v1.2h-1.2zM427.90 481.65h1.2v1.2h-1.2zM433.40 481.65h1.2v1.2h-1.2zM438.90 481.65h1.2v1.2h-1.2zM444.40 481.65h1.2v1.2h-1.2zM449.90 481.65h1.2v1.2h-1.2zM455.40 481.65h1.2v1.2h-1.2zM460.90 481.65h1.2v1.2h-1.2zM466.40 481.65h1.2v1.2h-1.2zM471.90 481.65h1.2v1.2h-1.2zM477.40 481.65h1.2v1.2h-1.2zM482.90 481.65h1.2v1.2h-1.2zM488.40 481.65h1.2v1.2h-1.2zM493.90 481.65h1.2v1.2h-1.2zM499.40 481.65h1.2v1.2h-1.2zM504.90 481.65h1.2v1.2h-1.2zM510.40 481.65h1.2v1.2h-1.2zM515.90 481.65h1.2v1.2h-1.2zM521.40 481.65h1.2v1.2h-1.2zM526.90 481.65h1.2v1.2h-1.2zM532.40 481.65h1.2v1.2h-1.2zM537.90 481.65h1.2v1.2h-1.2zM543.40 481.65h1.2v1.2h-1.2zM548.90 481.65h1.2v1.2h-1.2zM554.40 481.65h1.2v1.2h-1.2zM559.90 481.65h1.2v1.2h-1.2zM565.40 481.65h1.2v1.2h-1.2zM570.90 481.65h1.2v1.2h-1.2zM576.40 481.65h1.2v1.2h-1.2zM581.90 481.65h1.2v1.2h-1.2zM587.40 481.65h1.2v1.2h-1.2zM592.90 481.65h1.2v1.2h-1.2zM598.40 481.65h1.2v1.2h-1.2zM603.90 481.65h1.2v1.2h-1.2zM609.40 481.65h1.2v1.2h-1.2zM614.90 481.65h1.2v1.2h-1.2zM620.40 481.65h1.2v1.2h-1.2zM625.90 481.65h1.2v1.2h-1.2zM631.40 481.65h1.2v1.2h-1.2zM636.90 481.65h1.2v1.2h-1.2zM642.40 481.65h1.2v1.2h-1.2zM647.90 481.65h1.2v1.2h-1.2zM653.40 481.65h1.2v1.2h-1.2zM658.90 481.65h1.2v1.2h-1.2zM664.40 481.65h1.2v1.2h-1.2zM669.90 481.65h1.2v1.2h-1.2zM675.40 481.65h1.2v1.2h-1.2zM680.90 481.65h1.2v1.2h-1.2zM686.40 481.65h1.2v1.2h-1.2zM691.90 481.65h1.2v1.2h-1.2zM697.40 481.65h1.2v1.2h-1.2z" fill="#1a1a1a"/>
<rect x="427.90" y="0" width="1.2" height="551.0" fill="#111"/>
<path d="M425.90 17.59h5.6v1.2h-5.6zM425.90 34.77h5.6v1.2h-5.6zM425.90 51.96h5.6v1.2h-5.6zM425.90 69.15h5.6v1.2h-5.6zM425.90 86.34h5.6v1.2h-5.6zM425.90 103.53h5.6v1.2h-5.6zM425.90 120.71h5.6v1.2h-5.6zM425.90 137.90h5.6v1.2h-5.6zM425.90 155.09h5.6v1.2h-5.6zM425.90 172.28h5.6v1.2h-5.6zM425.90 189.46h5.6v1.2h-5.6zM425.90 206.65h5.6v1.2h-5.6zM425.90 223.84h5.6v1.2h-5.6zM425.90 241.03h5.6v1.2h-5.6zM425.90 258.21h5.6v1.2h-5.6zM425.90 275.40h5.6v1.2h-5.6zM425.90 292.59h5.6v1.2h-5.6zM425.90 309.77h5.6v1.2h-5.6zM425.90 326.96h5.6v1.2h-5.6zM425.90 344.15h5.6v1.2h-5.6zM425.90 361.34h5.6v1.2h-5.6zM425.90 378.52h5.6v1.2h-5.6zM425.90 395.71h5.6v1.2h-5.6zM425.90 412.90h5.6v1.2h-5.6zM425.90 430.09h5.6v1.2h-5.6zM425.90 447.27h5.6v1.2h-5.6zM425.90 464.46h5.6v1.2h-5.6zM425.90 481.65h5.6v1.2h-5.6zM425.90 498.84h5.6v1.2h-5.6zM425.90 516.02h5.6v1.2h-5.6zM425.90 533.21h5.6v1.2h-5.6z" fill="#111"/>
<rect x="155" y="291.3" width="547" height="5.9" fill="#3454a4"/>
<path d="M160 297.1h1v2.0h-1zM162 297.1h1v1.0h-1zM163 297.1h2v1.0h-2zM165 297.1h1v1.6h-1zM166 297.1h2v2.0h-2zM169 297.1h1v1.6h-1zM170 297.1h2v1.6h-2zM172 297.1h1v2.0h-1zM173 297.1h1v1.0h-1zM174 297.1h1v2.0h-1zM175 297.1h2v2.0h-2zM177 297.1h1v2.0h-1zM178 297.1h1v2.0h-1zM179 297.1h1v2.0h-1zM180 297.1h1v1.6h-1zM183 297.1h2v1.0h-2zM185 297.1h2v1.0h-2zM188 297.1h1v1.0h-1zM189 297.1h2v2.0h-2zM195 297.1h1v1.0h-1zM196 297.1h2v2.0h-2zM198 297.1h2v2.0h-2zM200 297.1h2v1.0h-2zM203 297.1h2v1.6h-2zM205 297.1h2v2.0h-2zM207 297.1h2v2.0h-2zM212 297.1h1v2.0h-1zM215 297.1h2v2.0h-2zM219 297.1h2v1.0h-2zM221 297.1h2v1.0h-2zM223 297.1h1v2.0h-1zM226 297.1h2v1.6h-2zM228 297.1h2v2.0h-2zM230 297.1h2v2.0h-2zM242 297.1h1v1.6h-1zM243 297.1h1v2.0h-1zM244 297.1h1v2.0h-1zM245 297.1h1v2.0h-1zM246 297.1h1v1.0h-1zM251 297.1h1v2.0h-1zM252 297.1h2v1.6h-2zM254 297.1h2v2.0h-2zM256 297.1h2v1.0h-2zM259 297.1h2v2.0h-2zM263 297.1h1v1.0h-1zM264 297.1h1v2.0h-1zM268 297.1h2v1.0h-2zM272 297.1h2v1.0h-2zM275 297.1h2v2.0h-2zM277 297.1h2v1.6h-2zM280 297.1h2v1.0h-2zM282 297.1h1v2.0h-1zM284 297.1h2v2.0h-2zM290 297.1h2v2.0h-2zM292 297.1h1v2.0h-1zM293 297.1h1v1.0h-1zM299 297.1h1v2.0h-1zM300 297.1h2v2.0h-2zM303 297.1h2v2.0h-2zM306 297.1h2v2.0h-2zM310 297.1h2v1.0h-2zM312 297.1h1v1.0h-1zM313 297.1h1v1.0h-1zM316 297.1h1v1.6h-1zM321 297.1h1v1.0h-1zM322 297.1h1v2.0h-1zM323 297.1h2v2.0h-2zM325 297.1h2v2.0h-2zM329 297.1h1v2.0h-1zM335 297.1h2v2.0h-2zM337 297.1h1v2.0h-1zM338 297.1h1v1.6h-1zM339 297.1h1v2.0h-1zM341 297.1h1v1.6h-1zM342 297.1h1v1.0h-1zM344 297.1h2v2.0h-2zM353 297.1h1v1.6h-1zM356 297.1h1v1.6h-1zM359 297.1h1v2.0h-1zM365 297.1h1v2.0h-1zM366 297.1h2v2.0h-2zM368 297.1h1v2.0h-1zM370 297.1h1v1.0h-1zM372 297.1h2v1.6h-2zM374 297.1h2v2.0h-2zM380 297.1h1v1.6h-1zM381 297.1h2v1.6h-2zM384 297.1h2v2.0h-2zM389 297.1h2v1.0h-2zM393 297.1h1v1.0h-1zM394 297.1h2v2.0h-2zM396 297.1h1v2.0h-1zM399 297.1h2v1.6h-2zM401 297.1h1v2.0h-1zM403 297.1h1v1.0h-1zM404 297.1h2v1.0h-2zM406 297.1h1v2.0h-1zM407 297.1h2v1.0h-2zM409 297.1h1v1.6h-1zM411 297.1h1v1.0h-1zM412 297.1h2v2.0h-2zM414 297.1h1v2.0h-1zM416 297.1h2v2.0h-2zM420 297.1h1v1.6h-1zM421 297.1h1v1.6h-1zM422 297.1h1v1.6h-1zM424 297.1h2v2.0h-2zM426 297.1h1v2.0h-1zM427 297.1h1v1.6h-1zM434 297.1h1v1.0h-1zM436 297.1h1v2.0h-1zM437 297.1h1v2.0h-1zM440 297.1h1v2.0h-1zM441 297.1h1v2.0h-1zM443 297.1h1v2.0h-1zM444 297.1h1v2.0h-1zM453 297.1h1v2.0h-1zM454 297.1h1v1.6h-1zM457 297.1h1v2.0h-1zM458 297.1h2v1.6h-2zM460 297.1h1v1.6h-1zM463 297.1h2v1.6h-2zM465 297.1h2v1.6h-2zM467 297.1h1v1.6h-1zM468 297.1h2v2.0h-2zM472 297.1h2v1.6h-2zM474 297.1h2v2.0h-2zM476 297.1h1v1.0h-1zM477 297.1h2v2.0h-2zM479 297.1h2v2.0h-2zM481 297.1h1v1.6h-1zM482 297.1h1v1.6h-1zM483 297.1h1v1.0h-1zM484 297.1h1v2.0h-1zM485 297.1h2v1.0h-2zM487 297.1h1v1.0h-1zM491 297.1h2v1.0h-2zM493 297.1h1v2.0h-1zM498 297.1h1v1.6h-1zM499 297.1h1v2.0h-1zM505 297.1h1v2.0h-1zM506 297.1h1v1.0h-1zM510 297.1h2v2.0h-2zM514 297.1h1v1.6h-1zM515 297.1h2v1.0h-2zM517 297.1h2v1.0h-2zM521 297.1h1v1.6h-1zM522 297.1h1v1.6h-1zM525 297.1h1v1.0h-1zM526 297.1h1v2.0h-1zM528 297.1h2v1.6h-2zM530 297.1h2v2.0h-2zM534 297.1h1v2.0h-1zM536 297.1h1v1.0h-1zM540 297.1h2v1.0h-2zM542 297.1h1v2.0h-1zM543 297.1h1v1.6h-1zM549 297.1h2v1.0h-2zM551 297.1h2v2.0h-2zM553 297.1h1v2.0h-1zM556 297.1h2v1.6h-2zM558 297.1h1v1.0h-1zM559 297.1h2v1.6h-2zM561 297.1h2v2.0h-2zM567 297.1h2v1.0h-2zM569 297.1h1v1.6h-1zM570 297.1h1v1.0h-1zM573 297.1h1v2.0h-1zM577 297.1h1v2.0h-1zM578 297.1h2v2.0h-2zM580 297.1h2v1.6h-2zM590 297.1h2v2.0h-2zM593 297.1h2v1.0h-2zM595 297.1h1v1.6h-1zM596 297.1h2v1.0h-2zM598 297.1h2v2.0h-2zM600 297.1h2v2.0h-2zM602 297.1h1v1.0h-1zM603 297.1h2v2.0h-2zM605 297.1h1v1.0h-1zM606 297.1h2v2.0h-2zM610 297.1h2v1.6h-2zM612 297.1h1v1.0h-1zM613 297.1h1v1.6h-1zM614 297.1h1v2.0h-1zM615 297.1h2v2.0h-2zM618 297.1h2v2.0h-2zM620 297.1h1v2.0h-1zM623 297.1h2v2.0h-2zM625 297.1h2v2.0h-2zM627 297.1h1v1.0h-1zM628 297.1h1v2.0h-1zM629 297.1h2v2.0h-2zM633 297.1h1v2.0h-1zM638 297.1h2v2.0h-2zM645 297.1h1v1.0h-1zM647 297.1h2v2.0h-2zM649 297.1h1v1.6h-1zM650 297.1h1v2.0h-1zM654 297.1h2v2.0h-2zM658 297.1h1v1.6h-1zM659 297.1h2v1.0h-2zM661 297.1h1v2.0h-1zM663 297.1h1v1.6h-1zM668 297.1h1v2.0h-1zM669 297.1h1v1.0h-1zM671 297.1h2v1.0h-2zM673 297.1h1v2.0h-1zM674 297.1h2v2.0h-2zM677 297.1h2v2.0h-2zM680 297.1h2v1.6h-2zM682 297.1h2v1.6h-2zM686 297.1h1v1.0h-1zM687 297.1h1v1.0h-1zM688 297.1h1v1.6h-1zM689 297.1h1v2.0h-1zM690 297.1h2v1.0h-2zM694 297.1h1v2.0h-1zM697 297.1h1v1.6h-1zM698 297.1h1v1.6h-1zM699 297.1h1v2.0h-1z" fill="#3454a4"/>
<rect x="155" y="275.9" width="547" height="1.2" fill="#2a2a2a"/>
<rect x="155" y="277.0" width="547" height="14.6" fill="#8c1a2b"/>
<path d="M155 273.9h2v3.4h-2zM158 273.5h1v3.8h-1zM159 273.9h1v3.4h-1zM161 273.7h2v3.6h-2zM163 273.5h2v3.8h-2zM168 273.5h1v3.8h-1zM169 273.7h1v3.6h-1zM170 273.7h1v3.6h-1zM171 273.5h1v3.8h-1zM172 274.5h1v2.8h-1zM174 273.5h2v3.8h-2zM176 273.5h2v3.8h-2zM180 273.7h2v3.6h-2zM182 273.7h2v3.6h-2zM184 273.9h2v3.4h-2zM186 273.5h2v3.8h-2zM189 273.9h2v3.4h-2zM195 273.7h2v3.6h-2zM197 273.5h1v3.8h-1zM198 274.5h2v2.8h-2zM200 273.5h2v3.8h-2zM202 273.7h1v3.6h-1zM203 273.7h1v3.6h-1zM206 273.5h1v3.8h-1zM209 273.9h1v3.4h-1zM211 273.7h1v3.6h-1zM212 273.5h2v3.8h-2zM215 274.5h1v2.8h-1zM218 273.7h2v3.6h-2zM222 273.7h2v3.6h-2zM224 273.5h2v3.8h-2zM228 274.5h1v2.8h-1zM229 273.5h1v3.8h-1zM230 273.7h2v3.6h-2zM234 274.5h2v2.8h-2zM236 273.9h2v3.4h-2zM241 273.7h2v3.6h-2zM243 273.5h1v3.8h-1zM246 273.5h2v3.8h-2zM248 273.7h2v3.6h-2zM250 273.5h2v3.8h-2zM252 273.7h1v3.6h-1zM254 273.7h1v3.6h-1zM255 273.5h2v3.8h-2zM259 273.5h1v3.8h-1zM262 273.9h2v3.4h-2zM266 273.9h1v3.4h-1zM267 273.9h1v3.4h-1zM268 273.9h1v3.4h-1zM269 274.5h2v2.8h-2zM271 273.9h2v3.4h-2zM273 273.5h2v3.8h-2zM275 273.7h1v3.6h-1zM276 273.7h2v3.6h-2zM280 273.5h2v3.8h-2zM283 273.5h2v3.8h-2zM288 273.7h2v3.6h-2zM292 273.7h2v3.6h-2zM294 273.5h1v3.8h-1zM295 273.9h1v3.4h-1zM296 273.9h1v3.4h-1zM297 274.5h1v2.8h-1zM298 273.7h1v3.6h-1zM299 273.7h1v3.6h-1zM302 274.5h1v2.8h-1zM303 273.7h1v3.6h-1zM307 273.5h1v3.8h-1zM310 273.7h2v3.6h-2zM312 274.5h2v2.8h-2zM314 273.9h1v3.4h-1zM315 273.7h1v3.6h-1zM322 273.5h2v3.8h-2zM324 274.5h1v2.8h-1zM325 273.7h1v3.6h-1zM328 273.7h2v3.6h-2zM330 273.5h2v3.8h-2zM332 273.5h1v3.8h-1zM333 274.5h2v2.8h-2zM338 274.5h1v2.8h-1zM343 274.5h1v2.8h-1zM344 273.9h1v3.4h-1zM345 273.5h1v3.8h-1zM346 273.7h1v3.6h-1zM348 273.5h1v3.8h-1zM350 273.5h1v3.8h-1zM351 273.9h2v3.4h-2zM354 273.7h2v3.6h-2zM356 273.7h1v3.6h-1zM357 273.7h1v3.6h-1zM359 274.5h2v2.8h-2zM361 273.7h1v3.6h-1zM362 273.5h1v3.8h-1zM363 273.5h2v3.8h-2zM365 273.9h1v3.4h-1zM366 273.7h2v3.6h-2zM373 274.5h1v2.8h-1zM374 273.7h1v3.6h-1zM375 273.9h1v3.4h-1zM377 273.9h1v3.4h-1zM378 273.7h2v3.6h-2zM380 274.5h1v2.8h-1zM383 274.5h1v2.8h-1zM384 274.5h2v2.8h-2zM389 274.5h2v2.8h-2zM391 273.5h1v3.8h-1zM393 273.7h1v3.6h-1zM395 273.5h1v3.8h-1zM397 273.7h2v3.6h-2zM401 273.7h1v3.6h-1zM402 274.5h1v2.8h-1zM403 273.5h2v3.8h-2zM405 273.5h1v3.8h-1zM407 273.7h1v3.6h-1zM408 274.5h1v2.8h-1zM409 273.5h2v3.8h-2zM413 274.5h2v2.8h-2zM417 273.7h2v3.6h-2zM419 273.7h1v3.6h-1zM420 273.5h1v3.8h-1zM421 273.9h2v3.4h-2zM425 273.5h2v3.8h-2zM431 274.5h1v2.8h-1zM432 273.5h1v3.8h-1zM436 273.5h2v3.8h-2zM439 273.7h1v3.6h-1zM440 273.9h2v3.4h-2zM442 273.7h1v3.6h-1zM445 273.9h2v3.4h-2zM447 273.7h1v3.6h-1zM448 273.9h2v3.4h-2zM456 273.5h1v3.8h-1zM457 273.9h2v3.4h-2zM461 273.9h1v3.4h-1zM462 274.5h2v2.8h-2zM465 273.7h2v3.6h-2zM472 273.7h1v3.6h-1zM473 274.5h1v2.8h-1zM474 273.5h1v3.8h-1zM476 274.5h2v2.8h-2zM478 274.5h2v2.8h-2zM480 273.7h2v3.6h-2zM484 273.5h2v3.8h-2zM486 273.5h1v3.8h-1zM490 273.5h2v3.8h-2zM492 273.5h2v3.8h-2zM494 273.7h1v3.6h-1zM497 274.5h2v2.8h-2zM499 274.5h1v2.8h-1zM503 273.9h2v3.4h-2zM505 273.7h1v3.6h-1zM507 274.5h1v2.8h-1zM509 273.9h1v3.4h-1zM510 273.5h2v3.8h-2zM515 273.5h2v3.8h-2zM517 273.7h1v3.6h-1zM522 273.5h2v3.8h-2zM524 273.5h2v3.8h-2zM526 273.7h2v3.6h-2zM528 273.5h2v3.8h-2zM531 274.5h2v2.8h-2zM535 273.7h1v3.6h-1zM538 273.7h1v3.6h-1zM543 273.7h2v3.6h-2zM545 273.7h1v3.6h-1zM546 273.7h1v3.6h-1zM547 274.5h2v2.8h-2zM549 273.7h1v3.6h-1zM554 273.7h2v3.6h-2zM556 273.7h1v3.6h-1zM559 273.9h1v3.4h-1zM560 273.7h2v3.6h-2zM562 273.9h1v3.4h-1zM563 273.9h1v3.4h-1zM565 273.5h1v3.8h-1zM566 274.5h1v2.8h-1zM567 273.7h2v3.6h-2zM571 273.5h2v3.8h-2zM575 273.9h1v3.4h-1zM578 274.5h1v2.8h-1zM582 273.9h1v3.4h-1zM585 273.9h1v3.4h-1zM588 274.5h2v2.8h-2zM590 273.5h2v3.8h-2zM592 273.7h1v3.6h-1zM593 273.5h2v3.8h-2zM596 273.9h2v3.4h-2zM598 273.7h2v3.6h-2zM606 274.5h2v2.8h-2zM608 273.7h2v3.6h-2zM611 274.5h1v2.8h-1zM612 273.5h2v3.8h-2zM614 274.5h1v2.8h-1zM615 273.7h1v3.6h-1zM622 273.7h1v3.6h-1zM625 273.7h1v3.6h-1zM629 273.9h1v3.4h-1zM633 273.7h1v3.6h-1zM634 274.5h2v2.8h-2zM636 273.5h1v3.8h-1zM638 273.7h2v3.6h-2zM640 273.9h2v3.4h-2zM643 273.7h1v3.6h-1zM644 273.9h2v3.4h-2zM648 273.5h1v3.8h-1zM651 274.5h1v2.8h-1zM652 273.9h1v3.4h-1zM653 273.5h1v3.8h-1zM654 273.7h1v3.6h-1zM659 273.5h1v3.8h-1zM660 273.9h2v3.4h-2zM665 273.7h1v3.6h-1zM666 273.9h1v3.4h-1zM672 273.7h2v3.6h-2zM674 273.7h2v3.6h-2zM676 273.7h1v3.6h-1zM677 273.9h1v3.4h-1zM679 273.9h2v3.4h-2zM683 274.5h2v2.8h-2zM689 273.7h2v3.6h-2zM691 273.5h1v3.8h-1zM697 273.7h2v3.6h-2zM699 273.7h2v3.6h-2zM701 273.9h1v3.4h-1z" fill="#901a2c"/>
<path d="M170 273.7h1v3.4h-1zM172 274.6h1v2.5h-1zM182 273.7h1v3.4h-1zM190 274.6h1v2.5h-1zM202 273.7h1v3.4h-1zM206 274.6h1v2.5h-1zM232 274.6h1v2.5h-1zM237 274.6h1v2.5h-1zM261 274.6h1v2.5h-1zM280 274.6h1v2.5h-1zM298 273.7h1v3.4h-1zM304 274.6h1v2.5h-1zM335 273.7h1v3.4h-1zM342 274.6h1v2.5h-1zM346 274.6h1v2.5h-1zM359 273.7h1v3.4h-1zM362 273.7h1v3.4h-1zM371 274.6h1v2.5h-1zM393 273.7h1v3.4h-1zM398 273.7h1v3.4h-1zM407 273.7h1v3.4h-1zM426 273.7h1v3.4h-1zM438 274.6h1v2.5h-1zM461 274.6h1v2.5h-1zM468 274.6h1v2.5h-1zM475 274.6h1v2.5h-1zM479 274.6h1v2.5h-1zM500 274.6h1v2.5h-1zM562 274.6h1v2.5h-1zM574 273.7h1v3.4h-1zM588 274.6h1v2.5h-1zM593 274.6h1v2.5h-1zM611 274.6h1v2.5h-1zM648 273.7h1v3.4h-1zM680 274.6h1v2.5h-1zM682 274.6h1v2.5h-1zM685 274.6h1v2.5h-1zM701 273.7h1v3.4h-1z" fill="#222"/>
<path d="M193 290.4h1v1.0h-1zM199 290.4h1v1.0h-1zM217 290.0h1v1.4h-1zM221 290.0h1v1.4h-1zM222 290.8h1v0.6h-1zM223 290.8h1v0.6h-1zM227 290.4h1v1.0h-1zM240 290.0h1v1.4h-1zM242 290.4h1v1.0h-1zM256 290.4h1v1.0h-1zM278 290.4h1v1.0h-1zM286 290.8h1v0.6h-1zM292 290.0h1v1.4h-1zM294 290.0h1v1.4h-1zM301 290.8h1v0.6h-1zM307 290.8h1v0.6h-1zM325 290.8h1v0.6h-1zM332 290.4h1v1.0h-1zM341 290.4h1v1.0h-1zM344 290.8h1v0.6h-1zM347 290.8h1v0.6h-1zM351 290.0h1v1.4h-1zM365 290.8h1v0.6h-1zM370 290.8h1v0.6h-1zM374 290.4h1v1.0h-1zM376 290.4h1v1.0h-1zM378 290.8h1v0.6h-1zM380 290.0h1v1.4h-1zM387 290.4h1v1.0h-1zM391 290.4h1v1.0h-1zM399 290.8h1v0.6h-1zM431 290.8h1v0.6h-1zM444 290.8h1v0.6h-1zM448 290.0h1v1.4h-1zM479 290.4h1v1.0h-1zM487 290.4h1v1.0h-1zM504 290.8h1v0.6h-1zM525 290.4h1v1.0h-1zM532 290.8h1v0.6h-1zM540 290.4h1v1.0h-1zM546 290.4h1v1.0h-1zM553 290.4h1v1.0h-1zM576 290.8h1v0.6h-1zM582 290.8h1v0.6h-1zM595 290.4h1v1.0h-1zM597 290.0h1v1.4h-1zM613 290.0h1v1.4h-1zM619 290.4h1v1.0h-1zM626 290.8h1v0.6h-1zM630 290.4h1v1.0h-1zM649 290.8h1v0.6h-1zM652 290.4h1v1.0h-1zM655 290.4h1v1.0h-1zM671 290.8h1v0.6h-1zM675 290.8h1v0.6h-1zM687 290.4h1v1.0h-1zM695 290.4h1v1.0h-1zM696 290.8h1v0.6h-1zM699 290.8h1v0.6h-1zM700 290.8h1v0.6h-1z" fill="#3454a4"/>
<path d="M187 291.5h1v1.5h-1zM188 291.5h1v2.0h-1zM196 291.5h1v1.0h-1zM247 291.5h1v1.0h-1zM266 291.5h1v1.5h-1zM271 291.5h1v1.0h-1zM294 291.5h1v2.0h-1zM335 291.5h1v1.0h-1zM358 291.5h1v1.0h-1zM367 291.5h1v1.0h-1zM399 291.5h1v1.0h-1zM404 291.5h1v1.5h-1zM468 291.5h1v1.0h-1zM486 291.5h1v1.5h-1zM491 291.5h1v2.0h-1zM499 291.5h1v1.5h-1zM503 291.5h1v2.0h-1zM505 291.5h1v2.0h-1zM549 291.5h1v2.0h-1zM619 291.5h1v1.5h-1zM671 291.5h1v2.0h-1z" fill="#8c1a2b"/>
<rect x="152" y="0" width="552" height="2.6" fill="#1c1a1a"/>
<rect x="152" y="549.8" width="552" height="2.2" fill="#151212"/>
<rect x="152" y="552" width="552" height="0.6" fill="#777"/>
<rect x="152" y="0" width="3" height="552" fill="#2a2828"/>
<rect x="152" y="133" width="3" height="10.8" fill="#161414"/>
<rect x="152" y="476.8" width="3" height="10.8" fill="#161414"/>
<rect x="702" y="0" width="2" height="552" fill="#1c1a1a"/>
<rect x="704" y="0" width="1" height="552.6" fill="#5a5a5a"/>
<path d="M155 2.2L157.9 2.2L157.2 4.4L156.2 6.1L155 6.1Z" fill="#a50a22"/>
<path d="M133 477L142.8 482.5L133 488Z" fill="#9a0b2c"/>
<path d="M143 477L152.5 482.5L143 488Z" fill="#3450a8"/>
</svg>
<div style="position:absolute;left:505px;top:569.5px;width:200px;height:31px;background:#fcfcfc"></div><div class="t" style="left:0.00px;top:210.40px;font-size:31px;letter-spacing:0.026px;transform:scaleX(0.7700);transform-origin:0 0">CHANNEL 1</div>
<div class="t" style="left:56.65px;top:239.40px;font-size:31px;letter-spacing:1.260px;transform:scaleX(0.7700);transform-origin:0 0">9A/DIV</div>
<div class="t" style="left:-0.13px;top:278.70px;font-size:31px;letter-spacing:0.675px;transform:scaleX(0.7700);transform-origin:0 0">CHANNEL 2</div>
<div class="t" style="left:57.16px;top:307.60px;font-size:31px;letter-spacing:1.000px;transform:scaleX(0.7700);transform-origin:0 0">9A/DIV</div>
<div class="t" style="left:374.93px;top:567.40px;font-size:31px;letter-spacing:1.557px;transform:scaleX(0.7700);transform-origin:0 0">20µs/DIV</div>
<div class="w" style="left:521.00px;top:573.70px;font-size:20.6px;color:#c6e6bb;letter-spacing:0.000px;transform:scaleX(0.9353);transform-origin:0 0">www.cntronics.com</div>

</body></html>
